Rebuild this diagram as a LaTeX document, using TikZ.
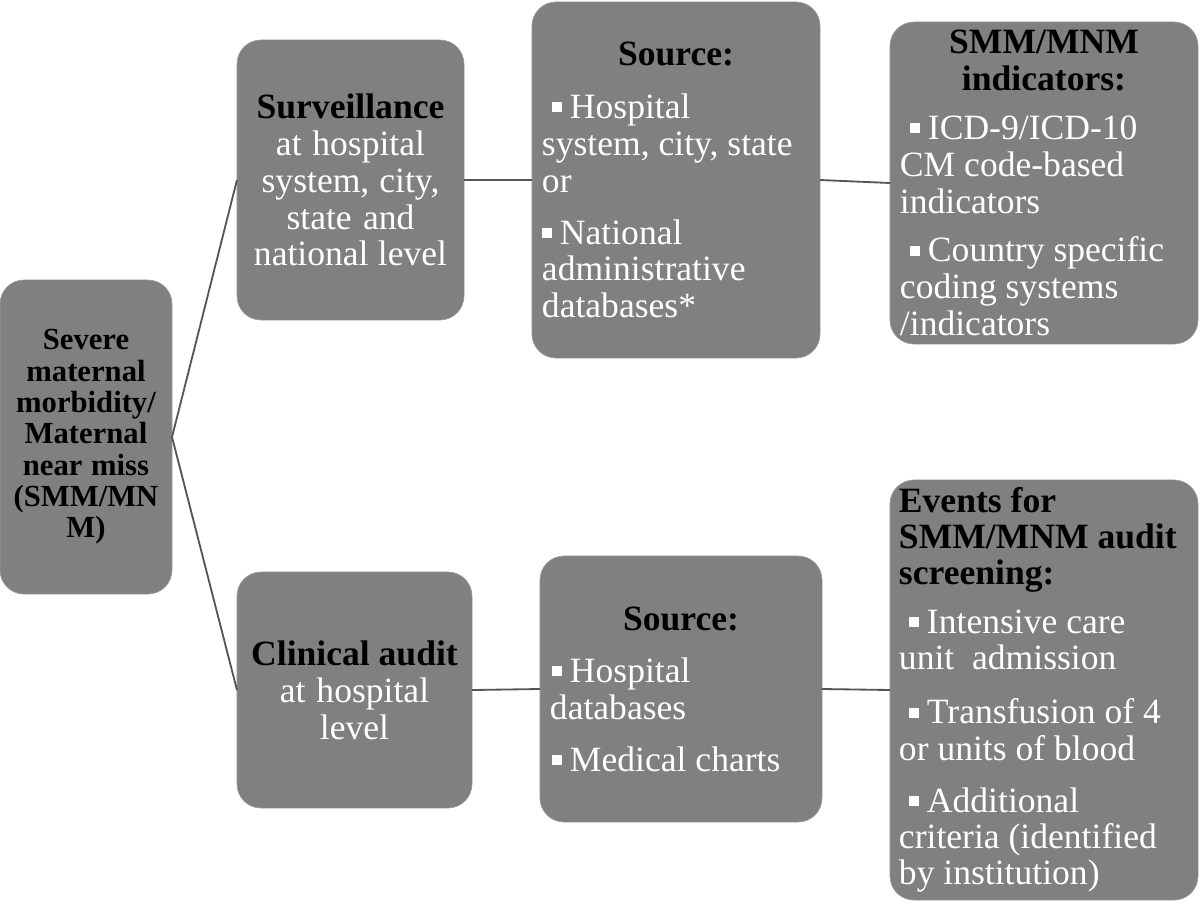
\documentclass[tikz,border=0pt]{standalone}
\usepackage{fontspec}
\setmainfont{Liberation Serif}
\definecolor{boxgray}{RGB}{128,128,128}
\definecolor{linkgray}{RGB}{85,85,85}
\newcommand{\sqb}[1]{\hspace*{#1}\rule[0.15cm]{0.25cm}{0.25cm}\hspace{0.2cm}}
\newcommand{\hd}[1]{{\centering\color{black}\bfseries #1\par}}
\newcommand{\gap}[1]{\par\vspace{#1}}
\begin{document}
\begin{tikzpicture}[x=0.025cm,y=-0.025cm,
	box/.style={draw=gray!75,fill=boxgray,rounded corners=0.6cm,text=white,inner xsep=0.25cm,inner ysep=0pt,outer sep=0pt,align=left,font=\fontsize{25.3}{26.2}\selectfont,execute at begin node={\spaceskip=0pt\xspaceskip=0pt}},
	link/.style={draw=linkgray,line width=1.3pt}]
	\useasboundingbox (0,0) rectangle (1200,902);
	
	\node[box,minimum width=4.3cm,minimum height=7.85cm,text width=3.9cm,inner xsep=0.2cm,align=center,text=black,font=\fontsize{21.8}{22.3}\selectfont\bfseries] (smm) at (86,437) {Severe\\maternal\\morbidity/\\Maternal\\near miss\\(SMM/MN\\M)};
	
	\node[box,minimum width=5.675cm,minimum height=7cm,text width=5.175cm,align=center] (surv) at (350.5,180) {\hd{Surveillance}at hospital\\system, city,\\state and\\national level};
	\node[box,minimum width=7.2cm,minimum height=8.9cm,text width=6.7cm] (srca) at (676,180) {\hd{Source:}\vspace{0.4cm}\sqb{0.25cm}Hospital\\system, city, state\\or\gap{0.38cm}\sqb{0cm}National\\administrative\\databases*};
	\node[box,minimum width=7.7cm,minimum height=8.05cm,text width=7.2cm] (ind) at (1044,183) {\hd{SMM/MNM\\indicators:}\vspace{0.3cm}\sqb{0.25cm}ICD-9/ICD-10\\CM code-based\\indicators\gap{0.3cm}\sqb{0.25cm}Country specific\\coding systems\\/indicators};
	
	\node[box,minimum width=5.875cm,minimum height=5.9cm,text width=5.375cm,align=center] (aud) at (354.5,690) {\hd{Clinical audit}at hospital\\level};
	\node[box,minimum width=7.05cm,minimum height=6.65cm,text width=6.55cm] (srcb) at (681,689) {\hd{Source:}\vspace{0.38cm}\sqb{0.05cm}Hospital\\databases\gap{0.38cm}\sqb{0.05cm}Medical charts};
	\node[box,minimum width=7.7cm,minimum height=10.5cm,text width=7.25cm,inner xsep=0.225cm,font=\fontsize{25.3}{25.8}\selectfont] (evt) at (1044,690) {{\color{black}\bfseries Events for\\SMM/MNM audit\\screening:\par}\vspace{0.3cm}\sqb{0.25cm}Intensive care\\unit\ \ admission\gap{0.45cm}\sqb{0.25cm}Transfusion of 4\\or units of blood\gap{0.4cm}\sqb{0.25cm}Additional\\criteria (identified\\by institution)};
	
	\draw[link] (smm.east) -- (surv.west);
	\draw[link] (smm.east) -- (aud.west);
	\draw[link] (surv.east) -- (srca.west);
	\draw[link] (srca.east) -- (ind.west);
	\draw[link] (aud.east) -- (srcb.west);
	\draw[link] (srcb.east) -- (evt.west);
\end{tikzpicture}
\end{document}
